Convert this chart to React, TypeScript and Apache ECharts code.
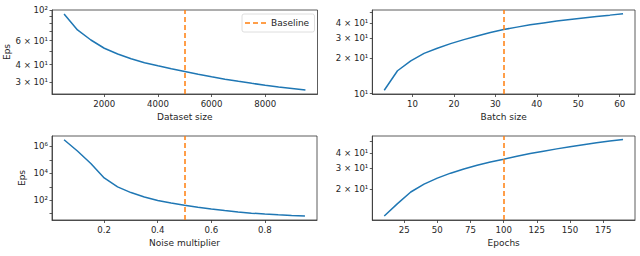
import { useEffect, useRef } from 'react';
import * as echarts from 'echarts';

// ---- data ----
const datasetSizes = [500, 1000, 1500, 2000, 2500, 3000, 3500, 4000, 4500, 5000, 5500, 6000, 6500, 7000, 7500, 8000, 8500, 9000, 9500];
const epsByDataset = [93.6, 71.6, 60.5, 52.7, 47.9, 44.2, 41.4, 39.3, 37.4, 35.7, 34.1, 32.7, 31.4, 30.3, 29.3, 28.4, 27.6, 26.9, 26.2];

const batchSizes = [3.2, 6.4, 9.6, 12.8, 16, 19.2, 22.4, 25.6, 28.8, 32, 35.2, 38.4, 41.6, 44.8, 48, 51.2, 54.4, 57.6, 60.8];
const epsByBatch = [10.7, 15.7, 19.1, 22.1, 24.5, 26.8, 29.0, 31.2, 33.4, 35.4, 37.1, 38.8, 40.3, 41.8, 43.2, 44.5, 45.8, 47.0, 48.3];

const noiseMultipliers = [0.05, 0.1, 0.15, 0.2, 0.25, 0.3, 0.35, 0.4, 0.45, 0.5, 0.55, 0.6, 0.65, 0.7, 0.75, 0.8, 0.85, 0.9, 0.95];
const epsByNoise = [3.1e6, 4.5e5, 5.3e4, 4.5e3, 980, 370, 175, 95, 62, 43, 30, 22, 17, 13.5, 11, 9.4, 8.2, 7.3, 6.6];

const epochs = [10, 20, 30, 40, 50, 60, 70, 80, 90, 100, 110, 120, 130, 140, 150, 160, 170, 180, 190];
const epsByEpochs = [11.9, 15.1, 18.9, 22.0, 24.7, 27.2, 29.5, 31.7, 33.7, 35.6, 37.7, 39.7, 41.6, 43.5, 45.3, 47.1, 48.9, 50.6, 52.2];

const baselineDataset = 5000;
const baselineBatch = 32;
const baselineNoise = 0.5;
const baselineEpochs = 100;

// tick values
const datasetTicks = [2000, 4000, 6000, 8000];
const batchTicks = [10, 20, 30, 40, 50, 60];
const noiseTicks = [0.2, 0.4, 0.6, 0.8];
const epochTicks = [25, 50, 75, 100, 125, 150, 175];

const epsLabelsDataset = [30, 40, 60, 100];
const epsTicksDataset = [30, 40, 50, 60, 70, 80, 90, 100];
const epsLabelsBatch = [10, 20, 30, 40];
const epsTicksBatch = [10, 20, 30, 40, 50];
const epsLabelsNoise = [1e2, 1e4, 1e6];
const epsTicksNoise = [10, 1e2, 1e3, 1e4, 1e5, 1e6];
const epsLabelsEpochs = [20, 30, 40];
const epsTicksEpochs = [20, 30, 40, 50];

const FONT = 'DejaVu Sans';
const TEXT = '#262626';
const SPINE = '#333333';
const C0 = '#1f77b4';
const C1 = '#ff7f0e';

const SUP: Record<string, string> = { '0': '⁰', '1': '¹', '2': '²', '3': '³', '4': '⁴', '5': '⁵', '6': '⁶', '7': '⁷', '8': '⁸', '9': '⁹', '-': '⁻' };
function logLabel(v: number): string {
  const e = Math.floor(Math.log10(v) + 1e-9);
  const m = Math.round(v / Math.pow(10, e));
  const sup = String(e).split('').map((c) => SUP[c]).join('');
  return m === 1 ? `10${sup}` : `${m} × 10${sup}`;
}

const grids = [
  { left: 52, top: 10, width: 265.5, height: 84 },
  { left: 372.3, top: 10, width: 262.7, height: 84 },
  { left: 52, top: 136, width: 265, height: 84 },
  { left: 372.3, top: 136, width: 262.7, height: 84 },
];

function xAxis(gridIndex: number, min: number, max: number, ticks: number[], name: string) {
  return {
    type: 'value', gridIndex, min, max, name, nameLocation: 'middle', nameGap: 18,
    nameTextStyle: { fontSize: 9, color: TEXT, fontFamily: FONT },
    axisLine: { show: true, lineStyle: { color: SPINE, width: 0.8 } },
    splitLine: { show: false },
    axisTick: { show: true, length: 3, customValues: ticks, lineStyle: { color: SPINE, width: 0.8 } },
    axisLabel: { customValues: ticks, margin: 5, fontSize: 8.6, color: TEXT, fontFamily: FONT, formatter: (v: number) => String(v) },
  };
}

function yAxis(gridIndex: number, min: number, max: number, labels: number[], ticks: number[], name: string, nameGap: number) {
  return {
    type: 'log', logBase: 10, gridIndex, min, max, name, nameLocation: 'middle', nameGap,
    nameTextStyle: { fontSize: 9, color: TEXT, fontFamily: FONT },
    axisLine: { show: true, lineStyle: { color: SPINE, width: 0.8 } },
    splitLine: { show: false },
    axisTick: { show: true, length: 2.5, customValues: ticks, lineStyle: { color: SPINE, width: 0.8 } },
    axisLabel: { customValues: labels, margin: 4, fontSize: 8.6, color: TEXT, fontFamily: FONT, formatter: (v: number) => logLabel(v) },
  };
}

function lineSeries(i: number, xs: number[], ys: number[], baseline: number) {
  return {
    type: 'line', xAxisIndex: i, yAxisIndex: i,
    data: xs.map((x, k) => [x, ys[k]]),
    symbol: 'none', smooth: false,
    lineStyle: { color: C0, width: 1.5 },
    markLine: {
      silent: true, symbol: 'none', label: { show: false },
      lineStyle: { color: C1, width: 1.5, type: [5, 3] },
      data: [{ xAxis: baseline }],
    },
  };
}

export default function App() {
  const ref = useRef<HTMLDivElement>(null);
  useEffect(() => {
    if (!ref.current) return;
    const chart = echarts.init(ref.current, undefined, { renderer: 'svg' });
    chart.setOption({
      animation: false,
      backgroundColor: '#ffffff',
      grid: grids.map((g) => ({ ...g, show: true, borderColor: SPINE, borderWidth: 0.8, backgroundColor: 'transparent' })),
      xAxis: [
        xAxis(0, 50, 9950, datasetTicks, 'Dataset size'),
        xAxis(1, 0.32, 63.68, batchTicks, 'Batch size'),
        xAxis(2, 0.005, 0.995, noiseTicks, 'Noise multiplier'),
        xAxis(3, 1, 199, epochTicks, 'Epochs'),
      ],
      yAxis: [
        yAxis(0, 24.5, 100, epsLabelsDataset, epsTicksDataset, 'Eps', 39),
        yAxis(1, 9.93, 52, epsLabelsBatch, epsTicksBatch, '', 30),
        yAxis(2, 3.4, 5.9e6, epsLabelsNoise, epsTicksNoise, 'Eps', 26),
        yAxis(3, 11.0, 55.8, epsLabelsEpochs, epsTicksEpochs, '', 30),
      ],
      series: [
        lineSeries(0, datasetSizes, epsByDataset, baselineDataset),
        lineSeries(1, batchSizes, epsByBatch, baselineBatch),
        lineSeries(2, noiseMultipliers, epsByNoise, baselineNoise),
        lineSeries(3, epochs, epsByEpochs, baselineEpochs),
      ],
      graphic: [
        {
          type: 'rect', z: 100,
          shape: { x: 242, y: 14, width: 72.5, height: 18, r: 2 },
          style: { fill: 'rgba(255,255,255,0.85)', stroke: '#d6d6d6', lineWidth: 0.8 },
        },
        {
          type: 'line', z: 101,
          shape: { x1: 245, y1: 23, x2: 266, y2: 23 },
          style: { stroke: C1, lineWidth: 1.5, lineDash: [5, 3] },
        },
        {
          type: 'text', z: 101, x: 271, y: 23,
          style: { text: 'Baseline', fontSize: 9, fill: TEXT, fontFamily: FONT, verticalAlign: 'middle', align: 'left' },
        },
      ],
    });
    return () => chart.dispose();
  }, []);
  return <div ref={ref} style={{ position: 'fixed', left: 0, top: 0, width: 640, height: 256, background: '#fff' }} />;
}
